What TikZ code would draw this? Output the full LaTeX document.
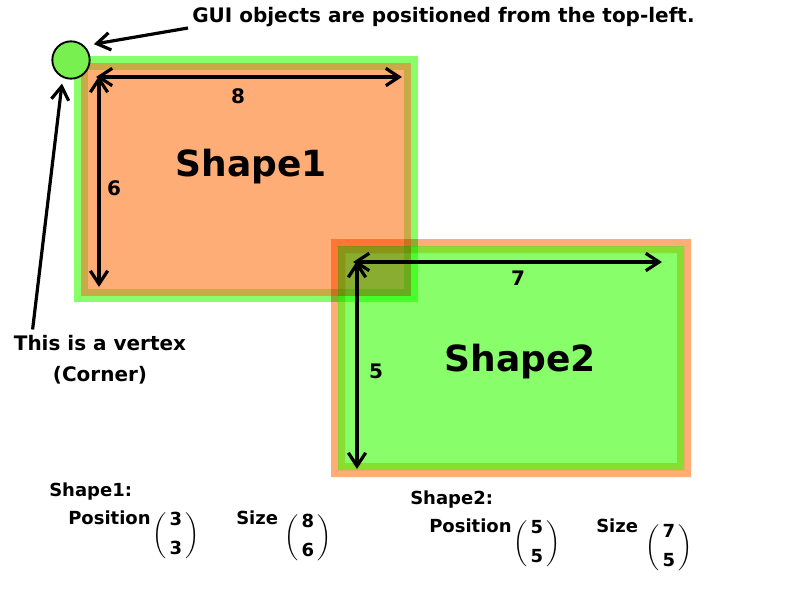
\documentclass[tikz,border=0pt]{standalone}
\usepackage{amsmath}
\usepackage{fontspec}
\setmainfont{DejaVu Sans}
\usepackage{tikz}
\usetikzlibrary{calc}
\usetikzlibrary{arrows.meta, positioning}

\definecolor{sOneGreen}{RGB}{136,255,106}
\definecolor{sOneOlive}{RGB}{200,170,70}
\definecolor{sOneOrange}{RGB}{255,173,118}
\definecolor{sTwoOrange}{RGB}{255,173,118}
\definecolor{sTwoOlive}{RGB}{136,221,51}
\definecolor{sTwoGreen}{RGB}{136,255,106}
\definecolor{vertexGreen}{RGB}{120,240,80}

\newcommand{\colvec}[2]{$\left(\begin{tabular}{@{\,}c@{\,}}\textbf{#1}\\[6pt]\textbf{#2}\end{tabular}\right)$}

\tikzset{
  dimarrow/.style={line width=2.4pt, {Straight Barb[length=10pt,width=13pt]}-{Straight Barb[length=10pt,width=13pt]}},
  pointer/.style={line width=2.4pt, -{Straight Barb[length=10pt,width=13pt]}},
  smalltext/.style={inner sep=0pt, font=\fontsize{15}{18}\selectfont\bfseries},
  bottomtext/.style={inner sep=0pt, font=\fontsize{13.5}{16}\selectfont\bfseries},
  bigtext/.style={inner sep=0pt, font=\fontsize{27}{30}\selectfont\bfseries}
}

\begin{document}
\begin{tikzpicture}[x=0.75pt,y=0.75pt,yscale=-1,xscale=1]
\useasboundingbox (0,0) rectangle (800,600);

%Shape1 [id:shape1]
\fill [sOneGreen] (74,56) rectangle (418,302);
\fill [sOneOlive] (81,63) rectangle (411,296);
\fill [sOneOrange] (88,70) rectangle (404,289);
%Shape2 [id:shape2]
\begin{scope}[blend mode=multiply]
\fill [sTwoOrange, even odd rule] (331,239) rectangle (691,477) (338,246) rectangle (684,470);
\fill [sTwoOlive, even odd rule] (338,246) rectangle (684,470) (345,253) rectangle (677,463);
\fill [sTwoGreen] (345,253) rectangle (677,463);
\end{scope}

%Corners of the sizes
\coordinate (s1left) at (96,77);
\coordinate (s1right) at (402,77);
\coordinate (s1top) at (99,76);
\coordinate (s1bottom) at (99,287);
\coordinate (s2left) at (353,262);
\coordinate (s2right) at (662,262);
\coordinate (s2top) at (357,261);
\coordinate (s2bottom) at (357,469);

%Dimension arrows
\draw [dimarrow] (s1left) -- (s1right);
\draw [dimarrow] (s1top) -- (s1bottom);
\draw [dimarrow] (s2left) -- (s2right);
\draw [dimarrow] (s2top) -- (s2bottom);

% Text Node
\node (sizeeight) [smalltext] at (238,96) {8};
\node (sizesix) [smalltext] at (114,188) {6};
\node (sizeseven) [smalltext] at (518,278) {7};
\node (sizefive) [smalltext] at (376,371) {5};
\node (shapeone) [bigtext] at (251,167) {Shape1};
\node (shapetwo) [bigtext] at (520,362) {Shape2};

%Vertex
\node (vertex) [circle, draw, line width=1.4pt, fill=vertexGreen, minimum size=28, inner sep=0pt] at (71,60) {};

% Text Node
\node (guitext) [smalltext, anchor=west] at (192,17) {GUI objects are positioned from the top-left.};
\node (vertextext) [smalltext, align=center, font=\fontsize{15}{23}\selectfont\bfseries] at (100,360) {This is a vertex\\(Corner)};

%Pointers
\draw [pointer] ($(guitext.west)+(-4,11)$) -- ($(vertex.north east)+(9,-2)$);
\draw [pointer] ($(vertextext.north west)+(19,-6)$) -- ($(vertex.south)+(-9,4)$);

% Text Node
\node (shapeonehead) [bottomtext, anchor=west] at (49,492) {Shape1:};
\node (shapeonepos) [bottomtext, anchor=west] at (68,518) {Position};
\node (shapeoneposvec) [bottomtext] at (176,536) {\colvec{3}{3}};
\node (shapeonesize) [bottomtext, anchor=west] at (236,518) {Size};
\node (shapeonesizevec) [bottomtext] at (308,538) {\colvec{8}{6}};
\node (shapetwohead) [bottomtext, anchor=west] at (410,500) {Shape2:};
\node (shapetwopos) [bottomtext, anchor=west] at (429,526) {Position};
\node (shapetwoposvec) [bottomtext] at (537,544) {\colvec{5}{5}};
\node (shapetwosize) [bottomtext, anchor=west] at (596,526) {Size};
\node (shapetwosizevec) [bottomtext] at (669,548) {\colvec{7}{5}};

\end{tikzpicture}
\end{document}
